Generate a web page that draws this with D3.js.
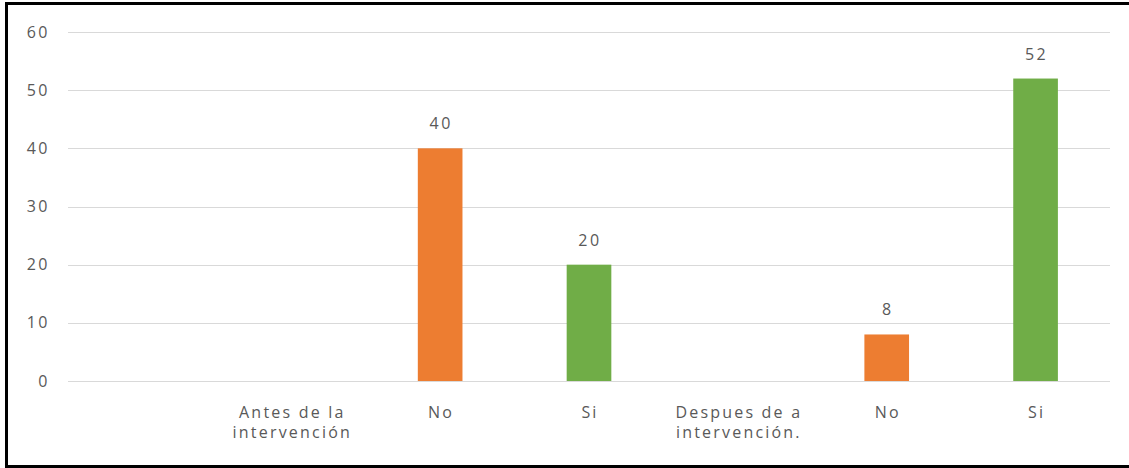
<!DOCTYPE html>
<html lang="es">
<head>
  <meta charset="UTF-8" />
  <title>Antes y después de la intervención</title>
  <script src="https://d3js.org/d3.v7.min.js"></script>
  <style>
    body { margin: 0; background: #fff; }
    svg { display: block; }
    .tick-label, .cat-label, .val-label {
      font-family: "Open Sans", sans-serif;
      fill: #595959;
      font-size: 16px;
    }
    .grid line { stroke: #d9d9d9; stroke-width: 1; }
  </style>
</head>
<body>
<svg id="chart" width="1129" height="468"></svg>
<script>
// categories (first slot is empty, as in the source chart)
const categories = [[""], ["Antes de la", "intervención"], ["No"], ["Si"], ["Despues de a", "intervención."], ["No"], ["Si"]];
const values = [null, null, 40, 20, null, 8, 52];
const series = [null, null, "No", "Si", null, "No", "Si"];
const yTicks = [0, 10, 20, 30, 40, 50, 60];
const colors = { "No": "#ED7D31", "Si": "#70AD47" };

const W = 1129, H = 468;
const margin = { left: 68, right: 19, top: 32, bottom: 87 };

const svg = d3.select("#chart");

const x = d3.scaleBand()
  .domain(d3.range(categories.length))
  .range([margin.left, W - margin.right])
  .paddingInner(0.7)
  .paddingOuter(0.35);

const y = d3.scaleLinear()
  .domain([0, 60])
  .range([H - margin.bottom, margin.top]);

// gridlines
svg.append("g").attr("class", "grid")
  .selectAll("line")
  .data(yTicks)
  .join("line")
  .attr("x1", margin.left)
  .attr("x2", W - margin.right)
  .attr("y1", d => Math.round(y(d)) + 0.5)
  .attr("y2", d => Math.round(y(d)) + 0.5);

// y tick labels
svg.append("g")
  .selectAll("text")
  .data(yTicks)
  .join("text")
  .attr("class", "tick-label")
  .attr("x", 50)
  .attr("y", d => y(d))
  .attr("dy", "0.35em")
  .attr("text-anchor", "end")
  .style("letter-spacing", "2.5px")
  .text(d => d);

const idx = d3.range(categories.length).filter(i => values[i] != null);

// bars
svg.append("g")
  .selectAll("rect")
  .data(idx)
  .join("rect")
  .attr("x", i => x(i))
  .attr("width", x.bandwidth())
  .attr("y", i => y(values[i]))
  .attr("height", i => y(0) - y(values[i]))
  .attr("fill", i => colors[series[i]]);

// value labels
svg.append("g")
  .selectAll("text")
  .data(idx)
  .join("text")
  .attr("class", "val-label")
  .attr("x", i => x(i) + x.bandwidth() / 2 + 1)
  .attr("y", i => y(values[i]) - 19)
  .attr("text-anchor", "middle")
  .style("letter-spacing", "2.5px")
  .text(i => values[i]);

// category labels
const cat = svg.append("g")
  .selectAll("text")
  .data(d3.range(categories.length))
  .join("text")
  .attr("class", "cat-label")
  .attr("text-anchor", "middle")
  .style("letter-spacing", "2.2px");

cat.selectAll("tspan")
  .data(i => categories[i].map(t => ({ i, t })))
  .join("tspan")
  .attr("x", d => x(d.i) + x.bandwidth() / 2 + 1)
  .attr("y", (d, k) => 418 + k * 20)
  .text(d => d.t);

// outer frame
svg.append("rect")
  .attr("x", 6.5)
  .attr("y", 3.5)
  .attr("width", W)
  .attr("height", H - 5)
  .attr("fill", "none")
  .attr("stroke", "#000")
  .attr("stroke-width", 3);
</script>
</body>
</html>
